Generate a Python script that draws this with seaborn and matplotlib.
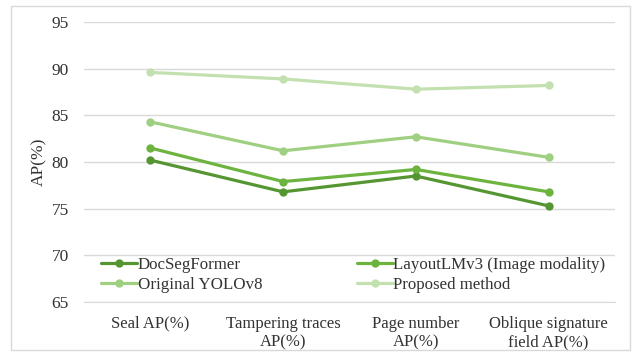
import matplotlib
matplotlib.use("Agg")
import matplotlib.pyplot as plt
import seaborn as sns
import pandas as pd
from matplotlib.patches import Rectangle

categories = ["Seal AP(%)", "Tampering traces\nAP(%)", "Page number\nAP(%)", "Oblique signature\nfield AP(%)"]
methods = ["DocSegFormer", "LayoutLMv3 (Image modality)", "Original YOLOv8", "Proposed method"]
docsegformer = [80.2, 76.8, 78.5, 75.3]
layoutlmv3 = [81.5, 77.9, 79.2, 76.8]
yolov8 = [84.3, 81.2, 82.7, 80.5]
proposed = [89.6, 88.9, 87.8, 88.2]
y_ticks = [65, 70, 75, 80, 85, 90, 95]

colors = ["#559632", "#6DB33F", "#9FCF80", "#C3E0B0"]

rows = []
for name, vals in zip(methods, [docsegformer, layoutlmv3, yolov8, proposed]):
    for cat, v in zip(categories, vals):
        rows.append({"category": cat, "method": name, "AP": v})
df = pd.DataFrame(rows)

sns.set_style("white")
plt.rcParams["font.family"] = ["Liberation Serif", "DejaVu Serif"]

fig = plt.figure(figsize=(6.34, 3.53), dpi=100)
ax = fig.add_axes([0.1325, 0.1445, 0.8375, 0.7932])

sns.lineplot(data=df, x="category", y="AP", hue="method", hue_order=methods,
             palette=colors, marker="o", markersize=6, markeredgewidth=0,
             linewidth=2.3, sort=False, ax=ax)

ax.set_ylim(65, 95)
ax.set_yticks(y_ticks)
ax.set_xlim(-0.5, 3.5)
ax.set_xticks(range(len(categories)))
ax.set_xticklabels(categories, fontsize=12, color="#333333", linespacing=1.2)
ax.tick_params(axis="y", labelsize=12.5, colors="#333333", length=0, pad=11)
ax.tick_params(axis="x", length=0, pad=10)
ax.set_xlabel("")
ax.set_ylabel("AP(%)", fontsize=12.5, color="#333333")
ax.yaxis.set_label_coords(-0.07, 0.5)

ax.grid(axis="y", color="#D9D9D9", linewidth=1)
ax.set_axisbelow(True)
for s in ["top", "right", "left"]:
    ax.spines[s].set_visible(False)
ax.spines["bottom"].set_color("#D9D9D9")

# two-column legend filled row by row
handles, labels = ax.get_legend_handles_labels()
order = [0, 2, 1, 3]
leg = ax.legend([handles[i] for i in order], [labels[i] for i in order],
                loc="lower left", bbox_to_anchor=(0.01, -0.01), ncol=2, frameon=False,
                fontsize=12.2, handlelength=2.1, handletextpad=0.05,
                columnspacing=5.6, labelspacing=0.22, borderaxespad=0.3)
for t in leg.get_texts():
    t.set_color("#333333")

fig.patches.append(Rectangle((11 / 634, 3 / 353), 619 / 634, 344 / 353,
                             transform=fig.transFigure, fill=False,
                             edgecolor="#D9D9D9", linewidth=1))

fig.savefig("out.png", dpi=100)
